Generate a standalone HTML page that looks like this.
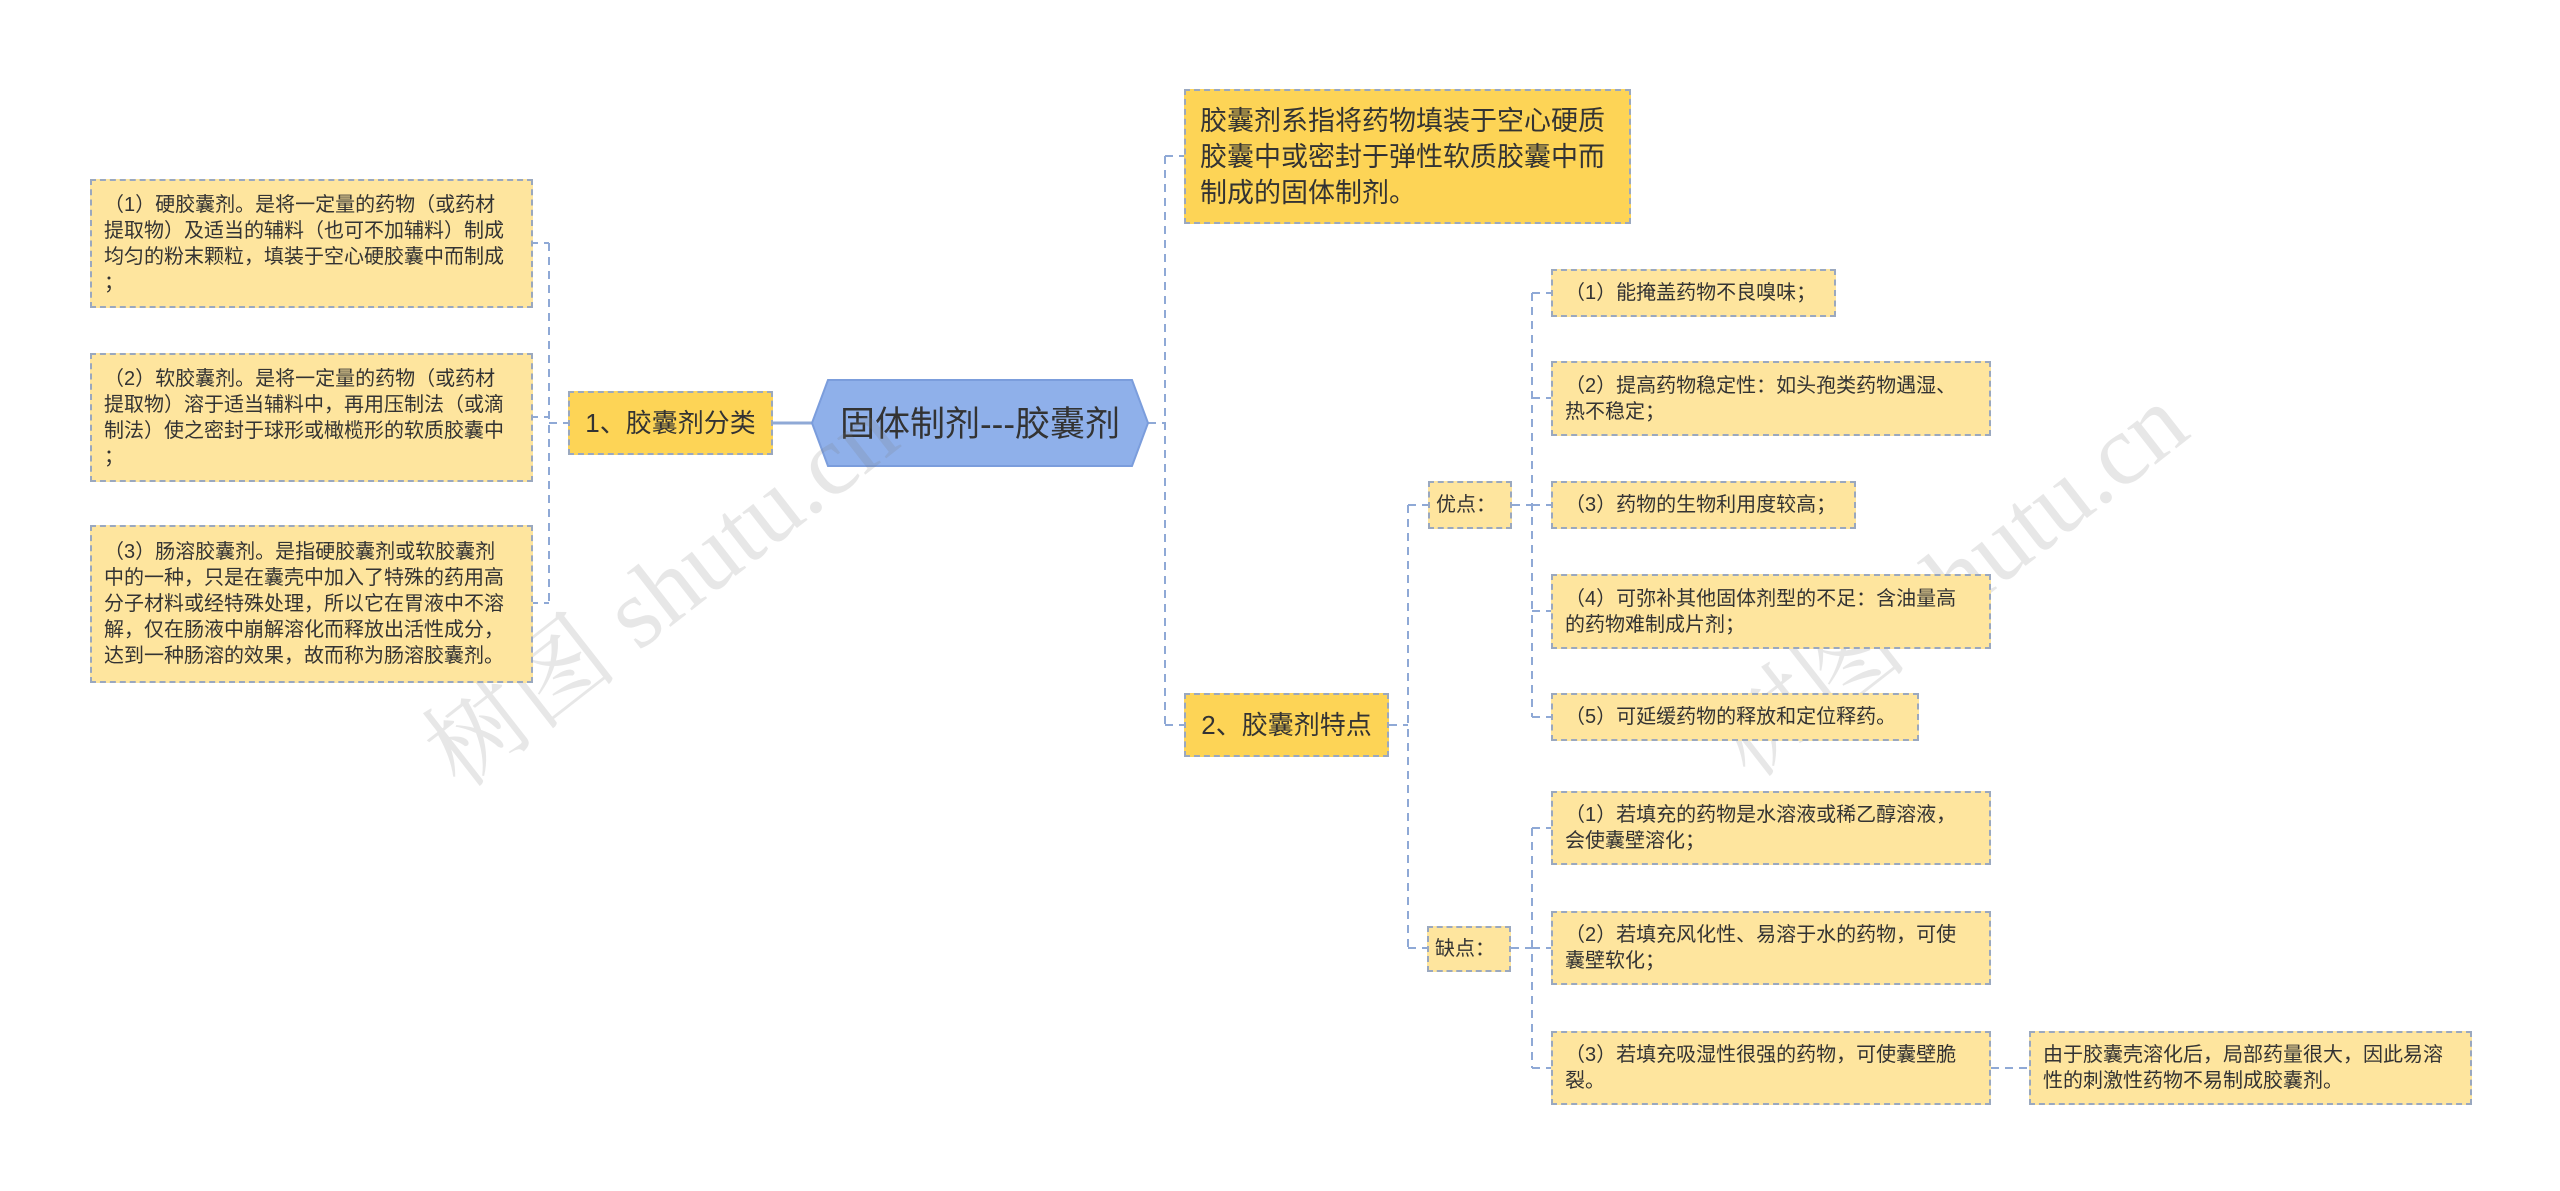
<!DOCTYPE html>
<html><head><meta charset="utf-8"><style>
body{margin:0;width:2560px;height:1191px;background:#fff;position:relative;overflow:hidden;font-family:"Liberation Sans","Noto Sans CJK SC",sans-serif;color:#333;}
.b{position:absolute;box-sizing:border-box;border:2px dashed #9aa8bf;background:#fee59e;font-size:20px;line-height:26px;padding:0 12px;display:flex;align-items:center;white-space:nowrap;}
.l1{background:#fdd456;font-size:26px;line-height:34px;}
.s{padding:0 6px;}
.wm{position:absolute;font-family:"Liberation Serif","Noto Serif CJK SC",serif;color:rgba(120,120,120,0.18);font-size:100px;white-space:nowrap;transform:rotate(-38deg);transform-origin:left top;}
</style></head><body>
<svg width="2560" height="1191" style="position:absolute;left:0;top:0">
<g stroke="#8fa9d6" stroke-width="2" fill="none" stroke-dasharray="8,6">
<path d="M530 243H549M530 417H549M530 603H549M549 243V603M549 423H568"/>
<path d="M1148 423H1165M1165 156V725M1165 156H1184M1165 725H1184"/>
<path d="M1389 725H1408M1408 505V948M1408 505H1428M1408 948H1428"/>
<path d="M1512 505H1532M1532 293V717M1532 293H1551M1532 398H1551M1532 505H1551M1532 611H1551M1532 717H1551"/>
<path d="M1511 948H1532M1532 828V1068M1532 828H1551M1532 948H1551M1532 1068H1551"/>
<path d="M1991 1068H2040"/>
</g>
<path d="M773 423H812" stroke="#8fa9d6" stroke-width="3"/>
<polygon points="828,380 1132,380 1148,423 1132,466 828,466 812,423" fill="#8fb0ea" stroke="#7b9ddc" stroke-width="2"/>
<text x="980" y="436" text-anchor="middle" font-size="35" fill="#333" font-family="Liberation Sans,Noto Sans CJK SC,sans-serif">固体制剂---胶囊剂</text>
</svg>
<div class="wm" style="left:390px;top:700px">树图 shutu.cn</div>
<div class="wm" style="left:1680px;top:690px">树图 shutu.cn</div>

<div class="b" style="left:90px;top:179px;width:443px;height:129px">（1）硬胶囊剂。是将一定量的药物（或药材<br>提取物）及适当的辅料（也可不加辅料）制成<br>均匀的粉末颗粒，填装于空心硬胶囊中而制成<br>；</div>
<div class="b" style="left:90px;top:353px;width:443px;height:129px">（2）软胶囊剂。是将一定量的药物（或药材<br>提取物）溶于适当辅料中，再用压制法（或滴<br>制法）使之密封于球形或橄榄形的软质胶囊中<br>；</div>
<div class="b" style="left:90px;top:525px;width:443px;height:158px">（3）肠溶胶囊剂。是指硬胶囊剂或软胶囊剂<br>中的一种，只是在囊壳中加入了特殊的药用高<br>分子材料或经特殊处理，所以它在胃液中不溶<br>解，仅在肠液中崩解溶化而释放出活性成分，<br>达到一种肠溶的效果，故而称为肠溶胶囊剂。</div>
<div class="b l1" style="left:568px;top:391px;width:205px;height:64px;justify-content:center">1、胶囊剂分类</div>

<div class="b l1" style="left:1184px;top:89px;width:447px;height:135px;font-size:27px;line-height:36px;padding:0 14px">胶囊剂系指将药物填装于空心硬质<br>胶囊中或密封于弹性软质胶囊中而<br>制成的固体制剂。</div>
<div class="b l1" style="left:1184px;top:693px;width:205px;height:64px;justify-content:center">2、胶囊剂特点</div>
<div class="b s" style="left:1428px;top:481px;width:84px;height:48px">优点：</div>
<div class="b s" style="left:1427px;top:926px;width:84px;height:46px">缺点：</div>

<div class="b" style="left:1551px;top:269px;width:285px;height:48px">（1）能掩盖药物不良嗅味；</div>
<div class="b" style="left:1551px;top:361px;width:440px;height:75px">（2）提高药物稳定性：如头孢类药物遇湿、<br>热不稳定；</div>
<div class="b" style="left:1551px;top:481px;width:305px;height:48px">（3）药物的生物利用度较高；</div>
<div class="b" style="left:1551px;top:574px;width:440px;height:75px">（4）可弥补其他固体剂型的不足：含油量高<br>的药物难制成片剂；</div>
<div class="b" style="left:1551px;top:693px;width:368px;height:48px">（5）可延缓药物的释放和定位释药。</div>

<div class="b" style="left:1551px;top:791px;width:440px;height:74px">（1）若填充的药物是水溶液或稀乙醇溶液，<br>会使囊壁溶化；</div>
<div class="b" style="left:1551px;top:911px;width:440px;height:74px">（2）若填充风化性、易溶于水的药物，可使<br>囊壁软化；</div>
<div class="b" style="left:1551px;top:1031px;width:440px;height:74px">（3）若填充吸湿性很强的药物，可使囊壁脆<br>裂。</div>
<div class="b" style="left:2029px;top:1031px;width:443px;height:74px">由于胶囊壳溶化后，局部药量很大，因此易溶<br>性的刺激性药物不易制成胶囊剂。</div>
</body></html>
